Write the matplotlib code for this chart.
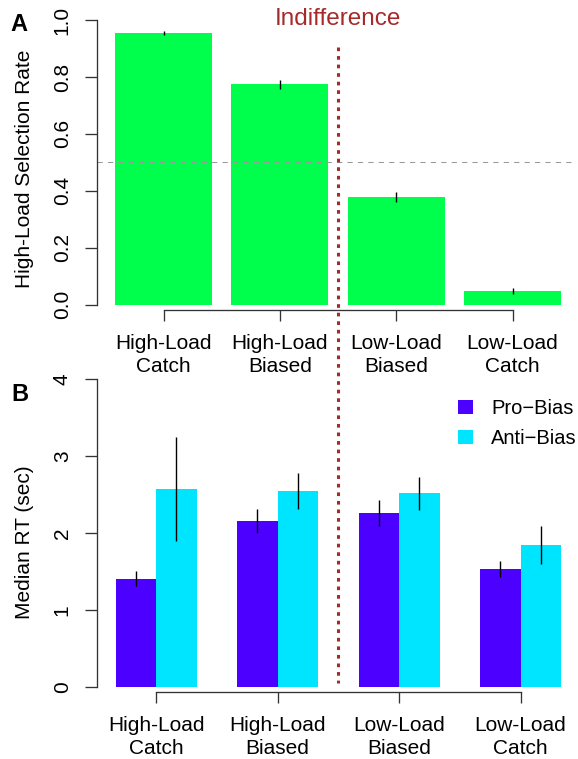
import matplotlib
matplotlib.use("Agg")
import matplotlib.pyplot as plt
import matplotlib.transforms as mtransforms
from matplotlib.lines import Line2D
from matplotlib.patches import Patch

plt.rcParams['font.family'] = ['Liberation Sans', 'DejaVu Sans']

# panel A data
cond_labels = ["High-Load\nCatch", "High-Load\nBiased", "Low-Load\nBiased", "Low-Load\nCatch"]
sel_rate = [0.954, 0.775, 0.378, 0.048]
sel_err = [0.008, 0.016, 0.018, 0.009]

# panel B data
pro_rt = [1.41, 2.16, 2.26, 1.54]
pro_err = [0.10, 0.155, 0.17, 0.105]
anti_rt = [2.575, 2.55, 2.52, 1.85]
anti_err = [0.68, 0.235, 0.215, 0.25]

green = "#00FF4D"
purple = "#4C00FF"
cyan = "#00E5FF"
brown = "#A52A2A"
axcol = "#333333"
fs = 15

W, H = 578, 759
fig = plt.figure(figsize=(W / 100, H / 100), dpi=100)


#axes placed by pixel box
def px_axes(left, top, right, bottom):
    ax = fig.add_axes([left / W, 1 - bottom / H, (right - left) / W, (bottom - top) / H])
    ax.patch.set_alpha(0)
    return ax


def style_axis(ax, ybounds, xbounds, outward):
    ax.spines['top'].set_visible(False)
    ax.spines['right'].set_visible(False)
    for s in ['left', 'bottom']:
        ax.spines[s].set_color(axcol)
        ax.spines[s].set_linewidth(0.95)
    ax.spines['left'].set_bounds(*ybounds)
    ax.spines['bottom'].set_bounds(*xbounds)
    ax.spines['bottom'].set_position(('outward', outward))
    ax.tick_params(axis='y', length=8.6, width=0.95, color=axcol, pad=9.5,
                   labelsize=fs, labelrotation=90)
    ax.tick_params(axis='x', length=8, width=0.95, color=axcol, pad=9.5,
                   labelsize=fs)
    for lab in ax.get_yticklabels():
        lab.set_va('center')
    for lab in ax.get_xticklabels():
        lab.set_linespacing(1.22)


# ---- panel A
axA = px_axes(97, 20, 575, 304.7)
xa = [0.7 + 1.2 * i for i in range(len(sel_rate))]
axA.bar(xa, sel_rate, width=1.0, color=green, linewidth=0)
axA.errorbar(xa, sel_rate, yerr=sel_err, fmt='none', ecolor='black', elinewidth=1, capsize=0)
axA.axhline(0.5, color='#999999', lw=0.75, linestyle=(0, (5, 5)))
axA.set_xlim(0.014, 4.944)
axA.set_ylim(0, 1)
axA.set_yticks([0, 0.2, 0.4, 0.6, 0.8, 1.0])
axA.set_yticklabels(["0.0", "0.2", "0.4", "0.6", "0.8", "1.0"])
axA.set_xticks(xa)
axA.set_xticklabels(cond_labels)
style_axis(axA, (0, 1), (xa[0], xa[-1]), 3.8)

# ---- panel B
axB = px_axes(97, 379.3, 575, 687.3)
xp = [1.5 + 3 * i for i in range(len(pro_rt))]
xn = [2.5 + 3 * i for i in range(len(anti_rt))]
axB.bar(xp, pro_rt, width=1.0, color=purple, linewidth=0)
axB.bar(xn, anti_rt, width=1.0, color=cyan, linewidth=0)
axB.errorbar(xp, pro_rt, yerr=pro_err, fmt='none', ecolor='black', elinewidth=1, capsize=0)
axB.errorbar(xn, anti_rt, yerr=anti_err, fmt='none', ecolor='black', elinewidth=1, capsize=0)
axB.set_xlim(0.538, 12.346)
axB.set_ylim(0, 4)
axB.set_yticks([0, 1, 2, 3, 4])
centers = [2.0 + 3 * i for i in range(len(pro_rt))]
axB.set_xticks(centers)
axB.set_xticklabels(cond_labels)
style_axis(axB, (0, 4), (centers[0], centers[-1]), 3.4)

handles = [Patch(facecolor=purple, edgecolor='none'), Patch(facecolor=cyan, edgecolor='none')]
axB.legend(handles, ["Pro\u2212Bias", "Anti\u2212Bias"], loc='upper left',
           bbox_to_anchor=(458 / W, 1 - 399 / H), bbox_transform=fig.transFigure,
           frameon=False, fontsize=14.5, borderpad=0, borderaxespad=0,
           handlelength=0.74, handleheight=0.64, handletextpad=0.9, labelspacing=0.55)

# dotted divider across both panels
trans = mtransforms.blended_transform_factory(axA.transData, fig.transFigure)
fig.add_artist(Line2D([2.5, 2.5], [1 - 47 / H, 1 - 683 / H], transform=trans,
                      color=brown, lw=2.2, linestyle=(0, (1.2, 1.6))))

fig.text(338 / W, 1 - 19 / H, "Indifference", color=brown, fontsize=17.5, ha='center', va='center')
fig.text(18.5 / W, 1 - 24.5 / H, "A", fontsize=17, fontweight='bold', ha='center', va='center')
fig.text(19.5 / W, 1 - 394.5 / H, "B", fontsize=17, fontweight='bold', ha='center', va='center')
fig.text(25 / W, 1 - 169 / H, "High-Load Selection Rate", fontsize=fs, rotation=90, ha='center', va='center')
fig.text(25 / W, 1 - 542 / H, "Median RT (sec)", fontsize=fs, rotation=90, ha='center', va='center')

fig.savefig("out.png", dpi=100)
